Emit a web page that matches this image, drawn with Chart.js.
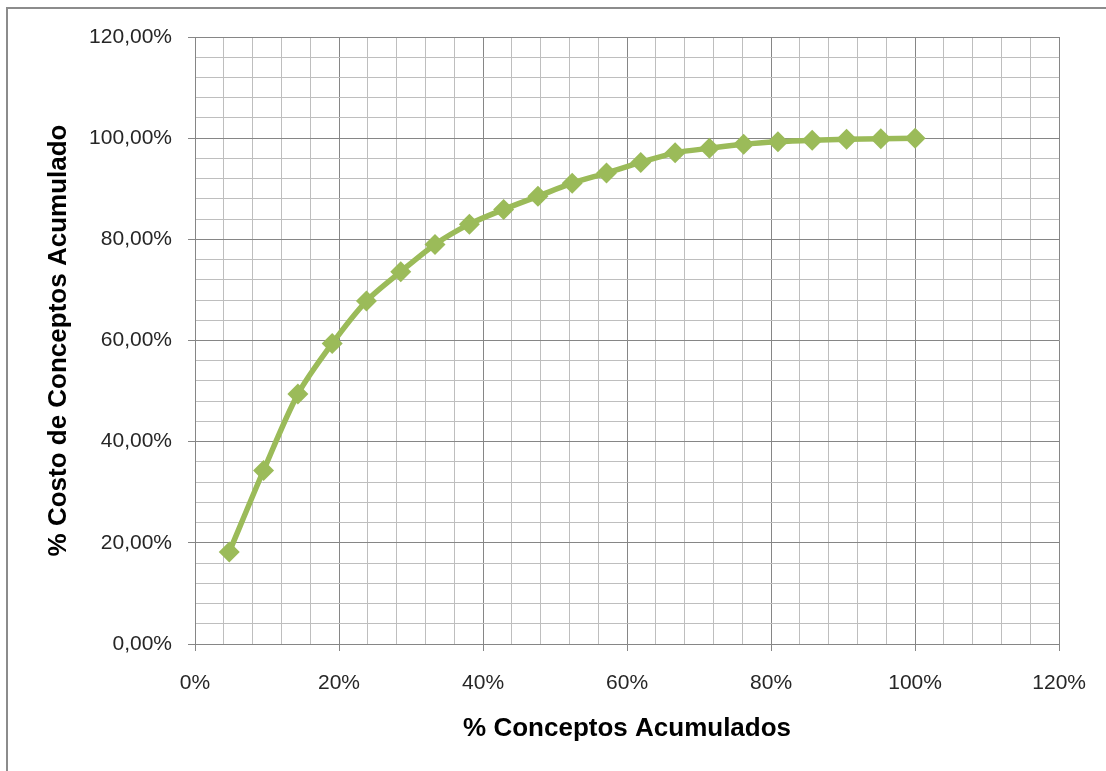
<!DOCTYPE html>
<html>
<head>
<meta charset="utf-8">
<script src="https://cdn.jsdelivr.net/npm/chart.js@4/dist/chart.umd.min.js"></script>
<style>
  html, body { margin: 0; padding: 0; background: #fff; }
  #wrap { position: relative; width: 1106px; height: 771px; overflow: hidden; }
  #frame { position: absolute; left: 6px; top: 7px; right: -10px; bottom: -10px;
           border-top: 2px solid #8c8c8c; border-left: 2px solid #8c8c8c; }
  #chart { position: absolute; left: 0; top: 0; }
</style>
</head>
<body>
<div id="wrap">
  <div id="frame"></div>
  <canvas id="chart" width="1106" height="771"></canvas>
</div>
<script>
/* ============================================================
   Curva ABC: % conceptos acumulados vs % costo acumulado
   ============================================================ */

// % Conceptos Acumulados (eje X)
const conceptosAcum = [4.76, 9.52, 14.29, 19.05, 23.81, 28.57, 33.33, 38.10, 42.86, 47.62, 52.38,
                       57.14, 61.90, 66.67, 71.43, 76.19, 80.95, 85.71, 90.48, 95.24, 100];
// % Costo de Conceptos Acumulado (eje Y)
const costoAcum = [18.2, 34.3, 49.4, 59.4, 67.8, 73.6, 79.0, 83.0, 85.9, 88.5, 91.1,
                   93.1, 95.2, 97.1, 98.0, 98.8, 99.3, 99.6, 99.8, 99.9, 100];

const xTitle = "% Conceptos Acumulados";
const yTitle = "% Costo de Conceptos Acumulado";

const GREEN = "#9bbb59";
const MAJOR = "#868686";
const MINOR = "#bebebe";

function isMajor(v){ return Math.round(v) % 20 === 0; }

const tickFont = { family: "'Liberation Sans', Arial, sans-serif", size: 21 };
const titleFont = { family: "'Liberation Sans', Arial, sans-serif", size: 26, weight: "bold" };

const gridOpts = {
  color: c => isMajor(c.tick.value) ? MAJOR : MINOR,
  tickColor: c => isMajor(c.tick.value) ? MAJOR : "rgba(0,0,0,0)",
  lineWidth: 1,
  tickLength: 7
};

new Chart(document.getElementById("chart"), {
  type: "line",
  data: {
    datasets: [{
      data: conceptosAcum.map((x, i) => ({ x: x, y: costoAcum[i] })),
      borderColor: GREEN,
      backgroundColor: GREEN,
      borderWidth: 5.5,
      tension: 0.3,
      pointStyle: "rectRot",
      pointRadius: 10.5,
      pointHoverRadius: 10.5,
      pointBorderWidth: 0
    }]
  },
  options: {
    responsive: false,
    animation: false,
    layout: { padding: { left: 0, top: 37, right: 46, bottom: 0 } },
    plugins: { legend: { display: false }, tooltip: { enabled: false } },
    scales: {
      x: {
        type: "linear",
        min: 0, max: 120,
        afterFit: s => { s.height = 127; },
        border: { color: MAJOR, width: 1 },
        grid: gridOpts,
        ticks: {
          stepSize: 4, autoSkip: false, maxTicksLimit: 100, maxRotation: 0,
          padding: 20, color: "#262626", font: tickFont,
          callback: v => isMajor(v) ? Math.round(v) + "%" : ""
        },
        title: { display: true, text: xTitle, color: "#000", font: titleFont, padding: { bottom: 27 } }
      },
      y: {
        min: 0, max: 120,
        afterFit: s => { s.width = 195; },
        border: { color: MAJOR, width: 1 },
        grid: gridOpts,
        ticks: {
          stepSize: 4, autoSkip: false, maxTicksLimit: 100,
          padding: 16, color: "#262626", font: tickFont,
          callback: v => isMajor(v) ? Math.round(v).toFixed(2).replace(".", ",") + "%" : ""
        },
        title: { display: true, text: yTitle, color: "#000", font: titleFont, padding: { top: 43 } }
      }
    }
  }
});
</script>
</body>
</html>
